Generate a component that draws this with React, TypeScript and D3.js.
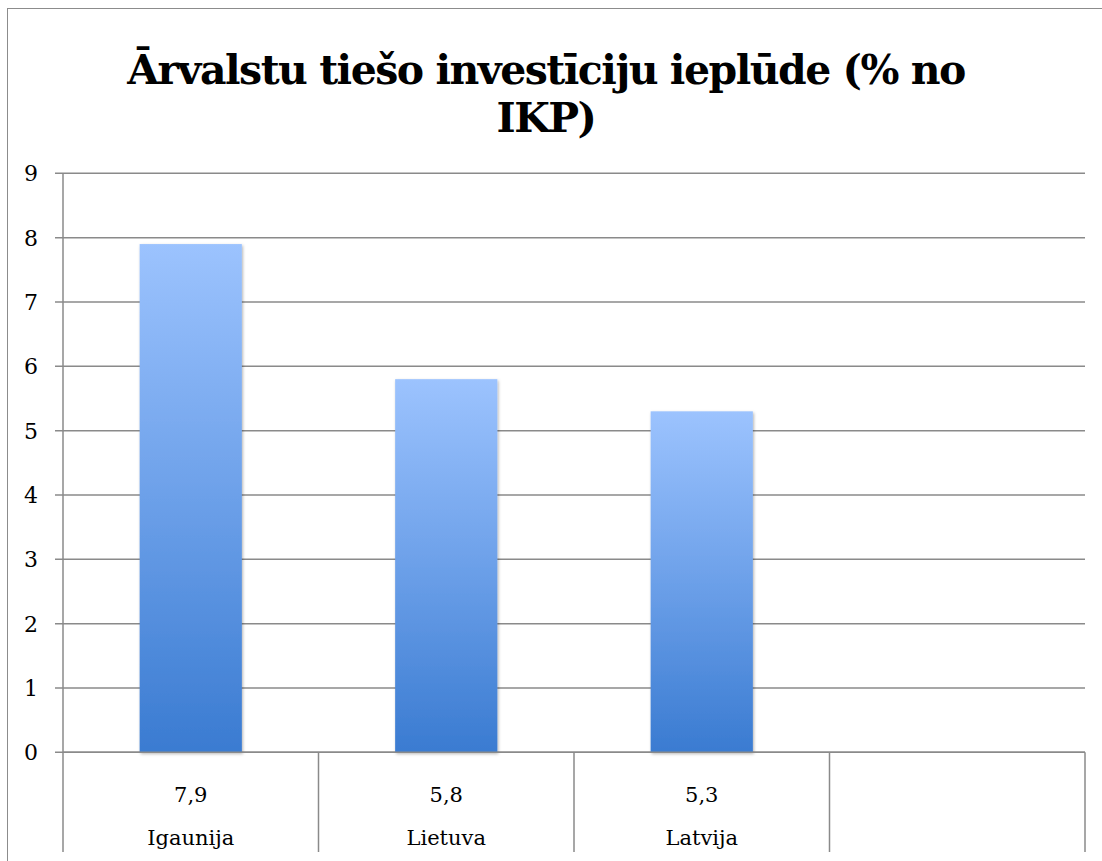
import React, { useEffect, useRef } from 'react'
import * as d3 from 'd3'

const categories = ['Igaunija', 'Lietuva', 'Latvija', '']
const values = [7.9, 5.8, 5.3]
const valueLabels = ['7,9', '5,8', '5,3']
const yTicks = [0, 1, 2, 3, 4, 5, 6, 7, 8, 9]
const titleLines = ['Ārvalstu tiešo investīciju ieplūde (% no', 'IKP)']

const W = 1102
const H = 861

const App = () => {
  const ref = useRef<SVGSVGElement>(null)

  useEffect(() => {
    const svg = d3.select(ref.current)
    svg.selectAll('*').remove()

    const left = 63
    const right = 1085
    const top = 173.3
    const bottom = 752.3
    const tableBottom = 852
    const grid = '#8a8a8a'
    const font = 'DejaVu Serif, serif'

    const x = d3.scaleBand<number>()
      .domain(d3.range(categories.length))
      .range([left, right])
    const y = d3.scaleLinear().domain([0, 9]).range([bottom, top])

    const defs = svg.append('defs')
    const grad = defs.append('linearGradient')
      .attr('id', 'barGrad')
      .attr('x1', 0).attr('y1', 0).attr('x2', 0).attr('y2', 1)
    grad.append('stop').attr('offset', '0%').attr('stop-color', '#9cc3fe')
    grad.append('stop').attr('offset', '50%').attr('stop-color', '#6ca0e9')
    grad.append('stop').attr('offset', '100%').attr('stop-color', '#3a7bd1')
    const f = defs.append('filter').attr('id', 'shadow')
      .attr('x', '-10%').attr('y', '-10%').attr('width', '130%').attr('height', '130%')
    f.append('feDropShadow')
      .attr('dx', 1).attr('dy', 1.5).attr('stdDeviation', 1.5)
      .attr('flood-color', '#000').attr('flood-opacity', 0.3)

    // frame
    svg.append('rect')
      .attr('x', 7.5).attr('y', 8.5)
      .attr('width', W).attr('height', H)
      .attr('fill', 'white')
      .attr('stroke', '#8c8c8c')

    // title
    svg.append('g')
      .selectAll('text')
      .data(titleLines)
      .join('text')
      .text(d => d)
      .attr('x', 546)
      .attr('y', (d, i) => 84 + i * 48)
      .attr('text-anchor', 'middle')
      .attr('font-family', font)
      .attr('font-weight', 'bold')
      .attr('font-size', 41)
      .attr('letter-spacing', -1.5)
      .attr('fill', 'black')

    // gridlines + ticks
    svg.append('g')
      .selectAll('line')
      .data(yTicks)
      .join('line')
      .attr('x1', left - 8).attr('x2', right)
      .attr('y1', d => y(d)).attr('y2', d => y(d))
      .attr('stroke', grid).attr('stroke-width', 1.5)

    svg.append('g')
      .selectAll('text')
      .data(yTicks)
      .join('text')
      .text(d => d)
      .attr('x', 31)
      .attr('y', d => y(d))
      .attr('dy', '0.36em')
      .attr('text-anchor', 'middle')
      .attr('font-family', font)
      .attr('font-size', 22)
      .attr('fill', 'black')

    // y axis
    svg.append('line')
      .attr('x1', left).attr('x2', left)
      .attr('y1', top).attr('y2', bottom)
      .attr('stroke', grid).attr('stroke-width', 1.5)

    // bars
    const bw = x.bandwidth() * 0.4
    svg.append('g')
      .selectAll('rect')
      .data(values)
      .join('rect')
      .attr('x', (d, i) => x(i)! + (x.bandwidth() - bw) / 2)
      .attr('y', d => y(d))
      .attr('width', bw)
      .attr('height', d => y(0) - y(d))
      .attr('fill', 'url(#barGrad)')
      .attr('filter', 'url(#shadow)')

    // data table
    svg.append('line')
      .attr('x1', left).attr('x2', right)
      .attr('y1', bottom).attr('y2', bottom)
      .attr('stroke', grid).attr('stroke-width', 1.5)
    const edges = [...categories.map((c, i) => x(i)!), right]
    svg.append('g')
      .selectAll('line')
      .data(edges)
      .join('line')
      .attr('x1', d => d).attr('x2', d => d)
      .attr('y1', bottom).attr('y2', tableBottom)
      .attr('stroke', grid).attr('stroke-width', 1.5)

    svg.append('g')
      .selectAll('text')
      .data(valueLabels)
      .join('text')
      .text(d => d)
      .attr('x', (d, i) => x(i)! + x.bandwidth() / 2)
      .attr('y', 794)
      .attr('dy', '0.36em')
      .attr('text-anchor', 'middle')
      .attr('font-family', font)
      .attr('font-size', 21)
      .attr('fill', 'black')

    svg.append('g')
      .selectAll('text')
      .data(categories)
      .join('text')
      .text(d => d)
      .attr('x', (d, i) => x(i)! + x.bandwidth() / 2)
      .attr('y', 837)
      .attr('dy', '0.36em')
      .attr('text-anchor', 'middle')
      .attr('font-family', font)
      .attr('font-size', 21)
      .attr('fill', 'black')
  })

  return (
    <svg ref={ref} width={W} height={H}
      style={{ position: 'absolute', left: 0, top: 0, display: 'block' }}></svg>
  )
}

export default App
